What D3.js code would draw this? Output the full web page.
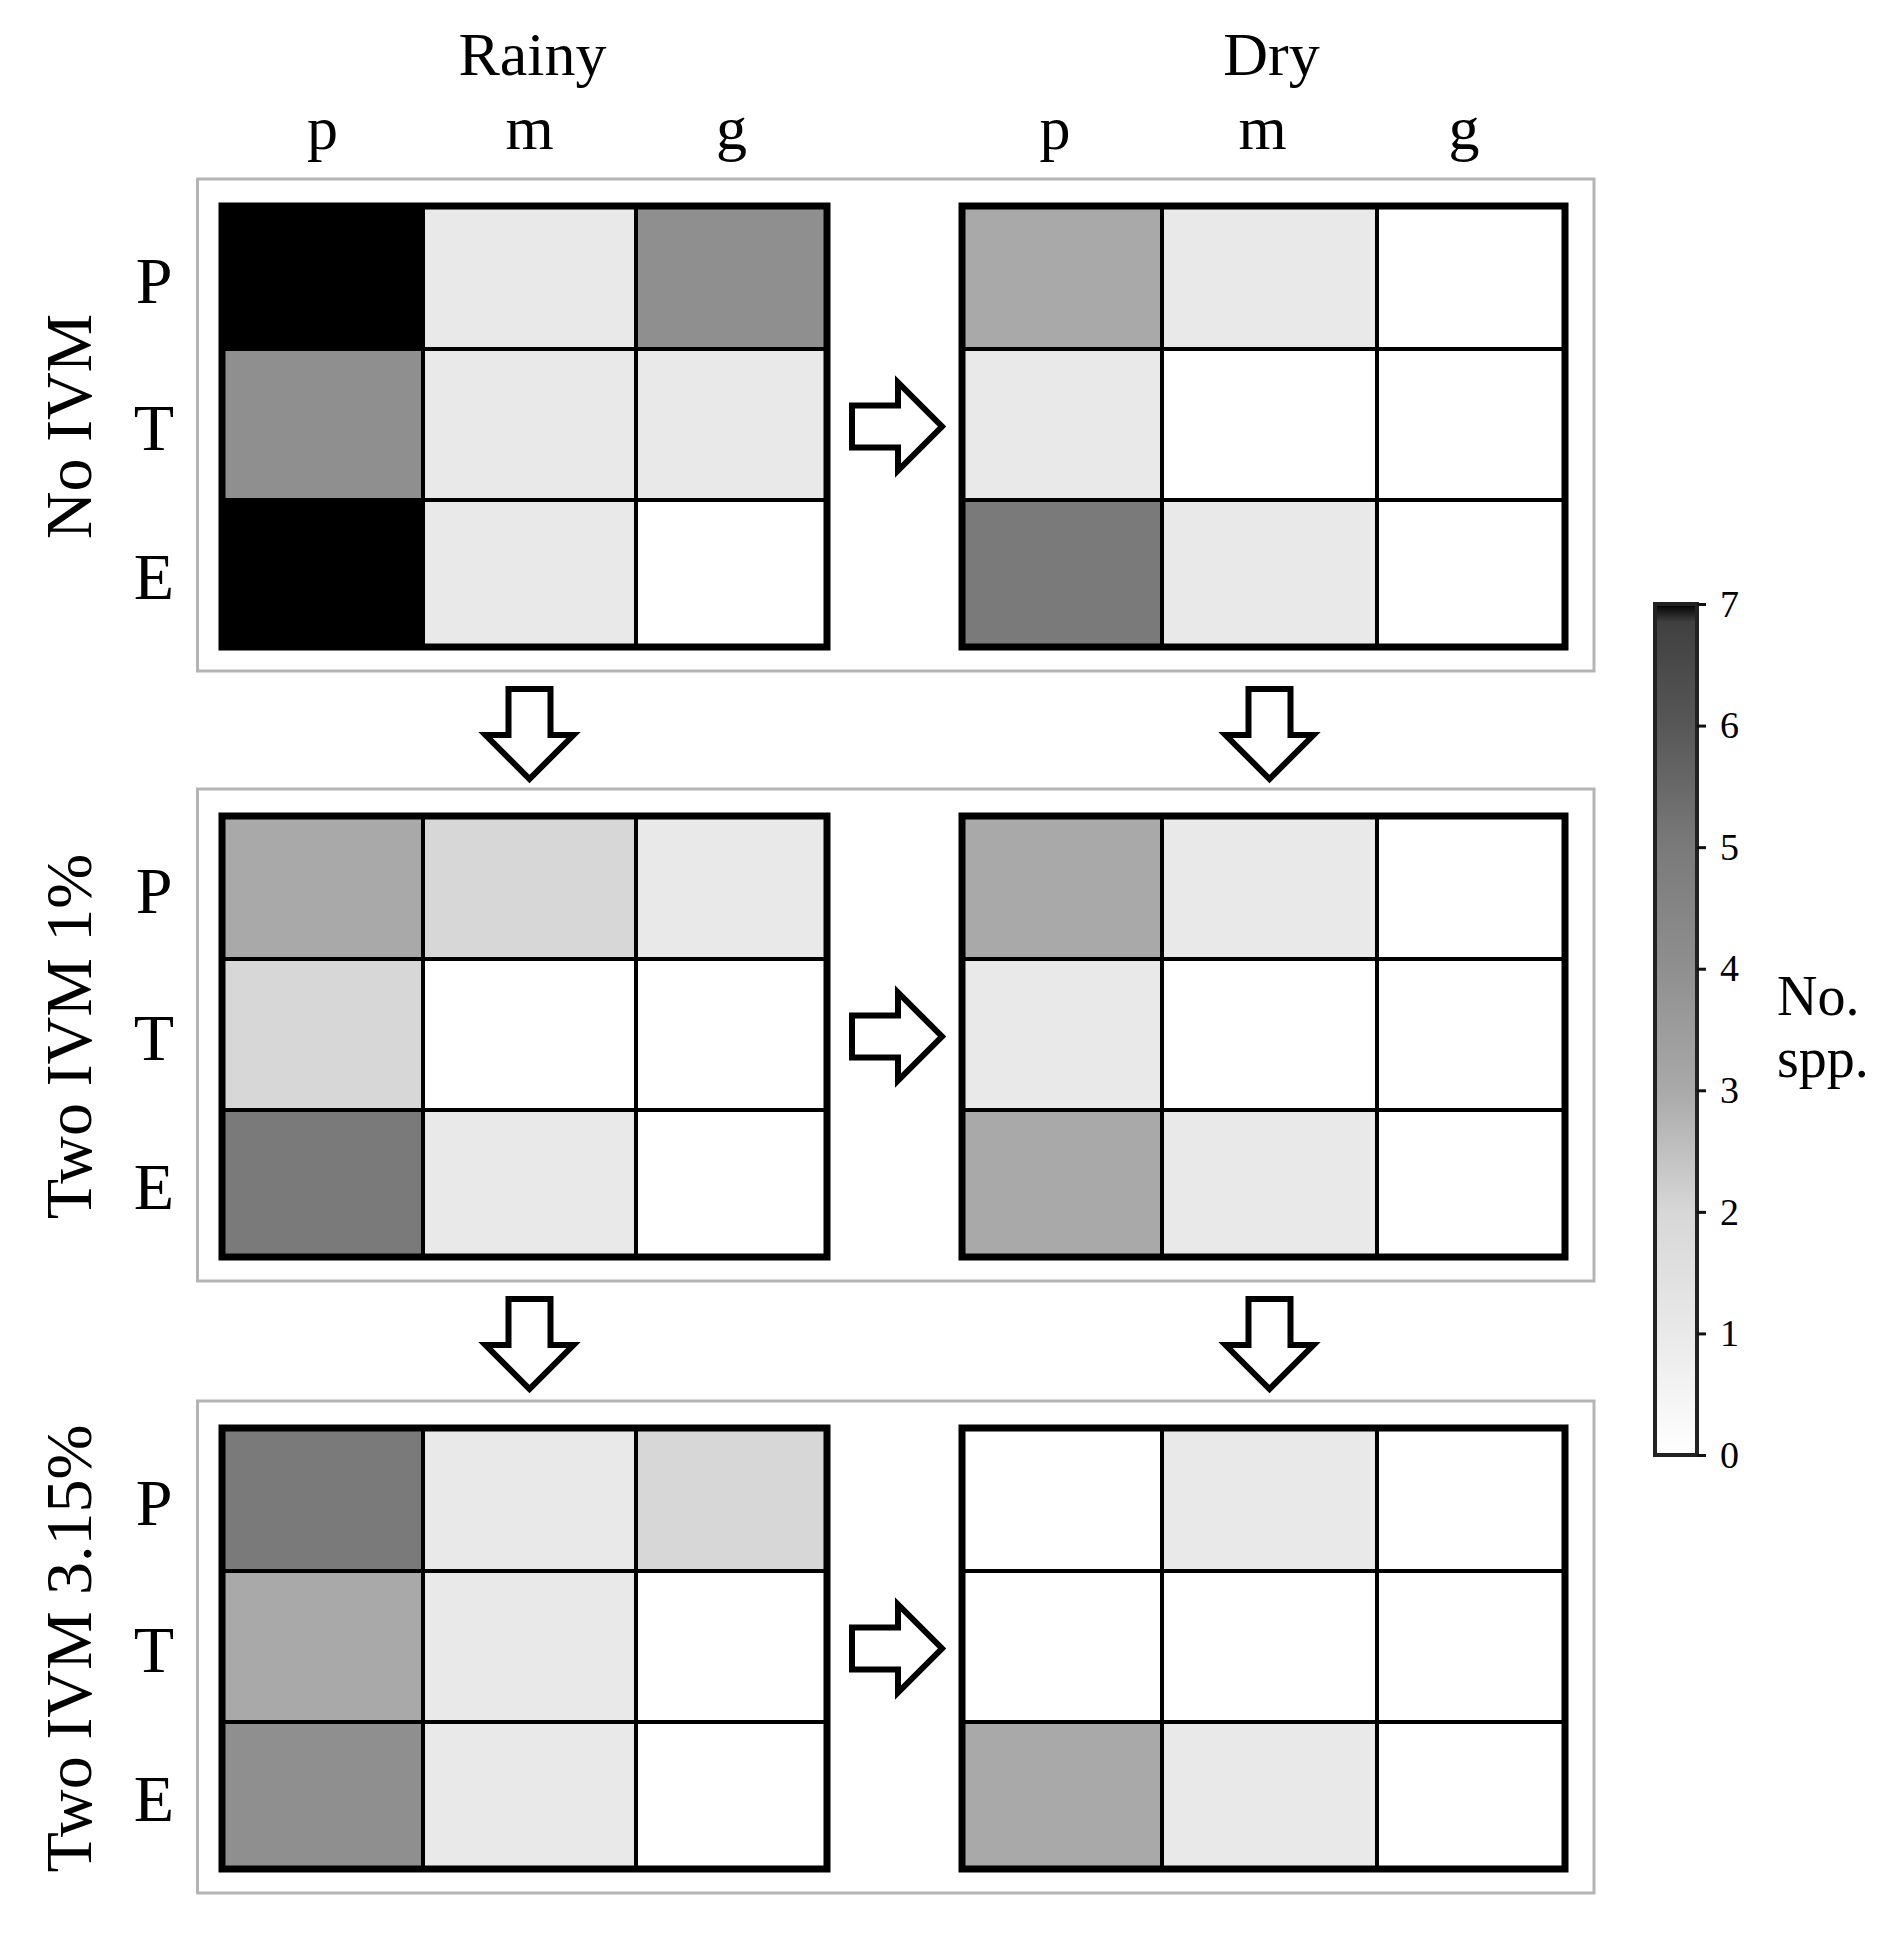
<!DOCTYPE html>
<html>
<head>
<meta charset="utf-8">
<script src="https://cdn.jsdelivr.net/npm/d3@7"></script>
<style>
  html, body { margin: 0; padding: 0; background: #fff; }
  svg { display: block; }
  text { font-family: "Liberation Serif", "Times New Roman", serif; fill: #000; }
</style>
</head>
<body>
<script>
// ---------------- DATA ----------------
const seasons = ["Rainy", "Dry"];
const sizeClasses = ["p", "m", "g"];          // columns
const habitats = ["P", "T", "E"];             // rows
const treatments = ["No IVM", "Two IVM 1%", "Two IVM 3.15%"];
// number of species: [treatment][season][row][col]
const noIvmRainy   = [[7, 1, 4], [4, 1, 1], [7, 1, 0]];
const noIvmDry     = [[3, 1, 0], [1, 0, 0], [5, 1, 0]];
const ivm1Rainy    = [[3, 2, 1], [2, 0, 0], [5, 1, 0]];
const ivm1Dry      = [[3, 1, 0], [1, 0, 0], [3, 1, 0]];
const ivm315Rainy  = [[5, 1, 2], [3, 1, 0], [4, 1, 0]];
const ivm315Dry    = [[0, 1, 0], [0, 0, 0], [3, 1, 0]];
const colorbarTicks = [0, 1, 2, 3, 4, 5, 6, 7];
const colorbarTitle = ["No.", "spp."];

const matrices = [
  [noIvmRainy, noIvmDry],
  [ivm1Rainy, ivm1Dry],
  [ivm315Rainy, ivm315Dry]
];

// ---------------- LAYOUT ----------------
const W = 1903, H = 1935;
const svg = d3.select("body").append("svg").attr("width", W).attr("height", H);

const gridTops = [206, 816, 1428];
const gridH = 441;
const colEdges = [[222, 423, 636, 827], [962, 1162, 1377, 1565]];
const rowEdgesRel = [0, 143, 294, gridH];

const color = d3.scaleLinear()
  .domain([0, 1, 2, 3, 4, 5, 6, 6.85, 7])
  .range(["#ffffff", "#e9e9e9", "#d7d7d7", "#a9a9a9", "#8f8f8f", "#7a7a7a", "#575757", "#404040", "#000000"])
  .clamp(true);

const xScales = colEdges.map(e => d3.scaleLinear().domain([0, 1, 2, 3]).range(e));
const yScaleRel = d3.scaleLinear().domain([0, 1, 2, 3]).range(rowEdgesRel);

// Panel boxes
const boxTopOff = -27, boxBotOff = 24;
treatments.forEach((t, i) => {
  const gy = gridTops[i];
  svg.append("rect")
    .attr("x", 197.5).attr("y", gy + boxTopOff)
    .attr("width", 1594 - 197.5).attr("height", gridH - boxTopOff + boxBotOff)
    .attr("fill", "none").attr("stroke", "#b4b4b4").attr("stroke-width", 3);
});

// Heatmaps
matrices.forEach((pair, ti) => {
  const gy = gridTops[ti];
  pair.forEach((mat, si) => {
    const xs = xScales[si];
    const g = svg.append("g").attr("transform", `translate(0,${gy})`);
    const cells = [];
    mat.forEach((row, r) => row.forEach((v, c) => cells.push({ r, c, v })));
    g.selectAll("rect.cell").data(cells).enter().append("rect")
      .attr("class", "cell")
      .attr("x", d => xs(d.c)).attr("y", d => yScaleRel(d.r))
      .attr("width", d => xs(d.c + 1) - xs(d.c))
      .attr("height", d => yScaleRel(d.r + 1) - yScaleRel(d.r))
      .attr("fill", d => color(d.v));
    // inner lines
    [1, 2].forEach(k => {
      g.append("line").attr("x1", xs(k)).attr("x2", xs(k))
        .attr("y1", yScaleRel(0)).attr("y2", yScaleRel(3))
        .attr("stroke", "#000").attr("stroke-width", 4);
      g.append("line").attr("x1", xs(0)).attr("x2", xs(3))
        .attr("y1", yScaleRel(k)).attr("y2", yScaleRel(k))
        .attr("stroke", "#000").attr("stroke-width", 4);
    });
    g.append("rect").attr("x", xs(0)).attr("y", yScaleRel(0))
      .attr("width", xs(3) - xs(0)).attr("height", yScaleRel(3) - yScaleRel(0))
      .attr("fill", "none").attr("stroke", "#000").attr("stroke-width", 7);
  });

  // row labels
  habitats.forEach((h, r) => {
    svg.append("text")
      .attr("x", 154).attr("y", gy + (yScaleRel(r) + yScaleRel(r + 1)) / 2 + 25)
      .attr("text-anchor", "middle").attr("font-size", 66).text(h);
  });
  // treatment label (rotated)
  const cy = gy + gridH / 2;
  svg.append("text")
    .attr("transform", `translate(91,${cy}) rotate(-90)`)
    .attr("text-anchor", "middle").attr("font-size", 66).text(treatments[ti]);
});

// Column headers
seasons.forEach((s, si) => {
  const xs = xScales[si];
  svg.append("text").attr("x", (xs(0) + xs(3)) / 2 + 8).attr("y", 75)
    .attr("text-anchor", "middle").attr("font-size", 62).text(s);
  sizeClasses.forEach((c, ci) => {
    svg.append("text").attr("x", (xs(ci) + xs(ci + 1)) / 2 - (si ? 7 : 0)).attr("y", 149)
      .attr("text-anchor", "middle").attr("font-size", 62).text(c);
  });
});

// Arrows
const arrowPath = "M0,-21 L46,-21 L46,-44 L90,0 L46,44 L46,21 L0,21 Z";
function arrow(x, y, rot) {
  svg.append("path").attr("d", arrowPath)
    .attr("transform", `translate(${x},${y}) rotate(${rot})`)
    .attr("fill", "#fff").attr("stroke", "#000").attr("stroke-width", 6)
    .attr("stroke-linejoin", "miter");
}
gridTops.forEach(gy => {
  arrow(852, gy + (yScaleRel(1) + yScaleRel(2)) / 2 + 2, 0);
});
[0, 1].forEach(i => {
  const yStart = gridTops[i] + gridH + boxBotOff + 18;
  arrow((xScales[0](1) + xScales[0](2)) / 2, yStart, 90);
  arrow((xScales[1](1) + xScales[1](2)) / 2, yStart, 90);
});

// Colorbar
const cbX = 1655, cbW = 42, cbTop = 604, cbBot = 1455;
const cbScale = d3.scaleLinear().domain([0, 7]).range([cbBot, cbTop]);
const defs = svg.append("defs");
const grad = defs.append("linearGradient").attr("id", "cbgrad")
  .attr("x1", 0).attr("y1", 1).attr("x2", 0).attr("y2", 0);
color.domain().forEach(v => {
  grad.append("stop").attr("offset", v / 7).attr("stop-color", color(v));
});
svg.append("rect").attr("x", cbX).attr("y", cbTop).attr("width", cbW).attr("height", cbBot - cbTop)
  .attr("fill", "url(#cbgrad)").attr("stroke", "#222").attr("stroke-width", 4);
const axis = d3.axisRight(cbScale).tickValues(colorbarTicks).tickSize(9).tickPadding(14)
  .tickFormat(d3.format("d"));
const ag = svg.append("g").attr("transform", `translate(${cbX + cbW},0)`).call(axis);
ag.select(".domain").remove();
ag.selectAll(".tick line").attr("stroke", "#111").attr("stroke-width", 3);
ag.selectAll(".tick text").attr("font-size", 38).attr("fill", "#444")
  .attr("font-family", "Liberation Serif, serif");
colorbarTitle.forEach((t, i) => {
  svg.append("text").attr("x", 1777).attr("y", 1015 + i * 62)
    .attr("font-size", 56).attr("fill", "#222").text(t);
});
</script>
</body>
</html>
